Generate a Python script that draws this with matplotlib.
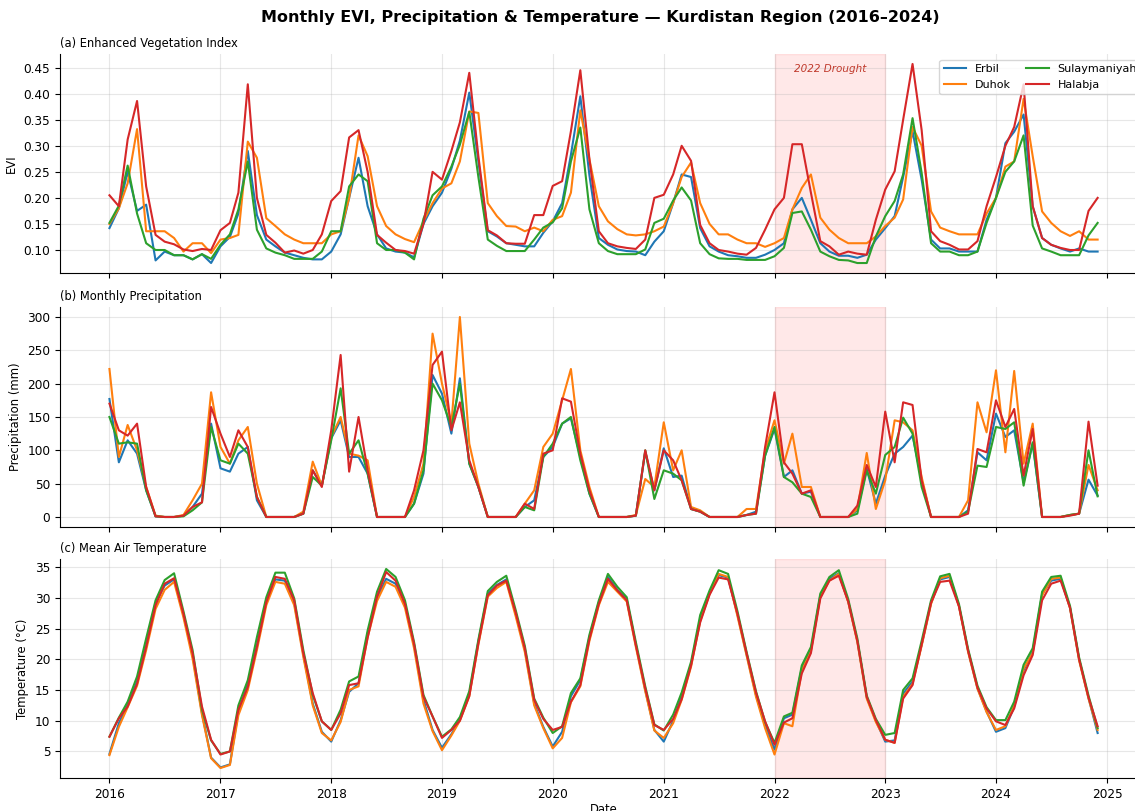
import pandas as pd
import matplotlib.pyplot as plt
import matplotlib.ticker as mticker
import matplotlib.transforms as mtransforms

# monthly series, Jan 2016 .. Dec 2024
dates = pd.date_range('2016-01-01', periods=108, freq='MS')
regions = ['Erbil', 'Duhok', 'Sulaymaniyah', 'Halabja']
colors = ['#1f77b4', '#ff7f0e', '#2ca02c', '#d62728']

# ---- EVI ----
evi_erbil = [
    0.142, 0.180, 0.250, 0.175, 0.187, 0.080, 0.097, 0.090, 0.090, 0.082, 0.092, 0.075,
    0.107, 0.125, 0.170, 0.290, 0.167, 0.120, 0.107, 0.095, 0.090, 0.085, 0.082, 0.082,
    0.097, 0.130, 0.200, 0.277, 0.184, 0.130, 0.103, 0.097, 0.095, 0.086, 0.150, 0.184,
    0.210, 0.256, 0.310, 0.402, 0.270, 0.136, 0.126, 0.113, 0.110, 0.107, 0.107, 0.133,
    0.155, 0.190, 0.283, 0.395, 0.243, 0.123, 0.110, 0.101, 0.098, 0.097, 0.090, 0.116,
    0.136, 0.190, 0.245, 0.240, 0.142, 0.107, 0.097, 0.090, 0.088, 0.085, 0.085, 0.091,
    0.100, 0.113, 0.178, 0.200, 0.158, 0.113, 0.097, 0.089, 0.089, 0.085, 0.091, 0.120,
    0.142, 0.165, 0.240, 0.328, 0.235, 0.120, 0.103, 0.103, 0.097, 0.097, 0.097, 0.158,
    0.200, 0.305, 0.327, 0.360, 0.184, 0.123, 0.110, 0.103, 0.097, 0.103, 0.097, 0.097,
]
evi_duhok = [
    0.150, 0.180, 0.228, 0.332, 0.136, 0.136, 0.136, 0.123, 0.097, 0.113, 0.113, 0.094,
    0.120, 0.123, 0.129, 0.308, 0.277, 0.161, 0.146, 0.130, 0.120, 0.113, 0.113, 0.113,
    0.130, 0.136, 0.200, 0.320, 0.280, 0.184, 0.146, 0.130, 0.121, 0.115, 0.155, 0.190,
    0.218, 0.228, 0.270, 0.366, 0.363, 0.190, 0.165, 0.146, 0.145, 0.136, 0.143, 0.136,
    0.158, 0.165, 0.210, 0.368, 0.274, 0.184, 0.155, 0.140, 0.130, 0.128, 0.130, 0.136,
    0.145, 0.190, 0.240, 0.268, 0.190, 0.150, 0.130, 0.130, 0.120, 0.113, 0.113, 0.106,
    0.113, 0.123, 0.178, 0.219, 0.245, 0.162, 0.139, 0.123, 0.113, 0.113, 0.113, 0.126,
    0.146, 0.162, 0.197, 0.336, 0.300, 0.174, 0.143, 0.136, 0.130, 0.130, 0.130, 0.170,
    0.200, 0.260, 0.270, 0.390, 0.280, 0.174, 0.152, 0.136, 0.127, 0.136, 0.120, 0.120,
]
evi_sulay = [
    0.152, 0.185, 0.262, 0.170, 0.113, 0.100, 0.100, 0.090, 0.090, 0.082, 0.092, 0.083,
    0.110, 0.130, 0.178, 0.270, 0.139, 0.103, 0.095, 0.090, 0.083, 0.083, 0.083, 0.097,
    0.136, 0.136, 0.222, 0.245, 0.232, 0.113, 0.100, 0.100, 0.095, 0.082, 0.160, 0.205,
    0.222, 0.260, 0.302, 0.365, 0.240, 0.120, 0.108, 0.098, 0.098, 0.098, 0.120, 0.143,
    0.153, 0.180, 0.270, 0.335, 0.178, 0.113, 0.098, 0.092, 0.092, 0.092, 0.101, 0.152,
    0.160, 0.195, 0.220, 0.195, 0.113, 0.092, 0.084, 0.083, 0.083, 0.081, 0.081, 0.081,
    0.088, 0.104, 0.171, 0.174, 0.139, 0.097, 0.088, 0.081, 0.080, 0.075, 0.075, 0.126,
    0.165, 0.194, 0.245, 0.353, 0.248, 0.113, 0.097, 0.097, 0.090, 0.090, 0.097, 0.152,
    0.200, 0.250, 0.270, 0.320, 0.147, 0.103, 0.097, 0.090, 0.090, 0.090, 0.128, 0.152,
]
evi_halabja = [
    0.205, 0.184, 0.312, 0.386, 0.222, 0.129, 0.116, 0.111, 0.101, 0.098, 0.102, 0.100,
    0.138, 0.152, 0.210, 0.418, 0.200, 0.129, 0.114, 0.095, 0.099, 0.093, 0.100, 0.130,
    0.194, 0.213, 0.316, 0.330, 0.250, 0.129, 0.114, 0.100, 0.098, 0.093, 0.150, 0.250,
    0.235, 0.290, 0.345, 0.440, 0.280, 0.138, 0.128, 0.113, 0.112, 0.112, 0.167, 0.167,
    0.223, 0.232, 0.328, 0.445, 0.274, 0.136, 0.113, 0.107, 0.104, 0.102, 0.120, 0.200,
    0.206, 0.245, 0.300, 0.271, 0.148, 0.113, 0.100, 0.097, 0.093, 0.091, 0.104, 0.139,
    0.178, 0.200, 0.303, 0.303, 0.210, 0.117, 0.107, 0.091, 0.097, 0.093, 0.091, 0.158,
    0.216, 0.251, 0.350, 0.457, 0.330, 0.136, 0.117, 0.110, 0.101, 0.101, 0.117, 0.184,
    0.240, 0.300, 0.336, 0.418, 0.184, 0.123, 0.110, 0.104, 0.100, 0.100, 0.175, 0.200,
]

# ---- precipitation (mm) ----
pr_erbil = [
    177, 82, 115, 95, 40, 1, 0, 0, 2, 15, 35, 140,
    73, 68, 95, 105, 25, 0, 0, 0, 0, 5, 70, 47,
    118, 145, 90, 90, 65, 0, 0, 0, 0, 20, 65, 213,
    185, 125, 208, 80, 45, 0, 0, 0, 0, 15, 25, 90,
    105, 140, 148, 90, 35, 0, 0, 0, 0, 2, 98, 40,
    103, 60, 62, 12, 8, 0, 0, 0, 0, 3, 8, 92,
    132, 60, 70, 35, 38, 0, 0, 0, 0, 10, 72, 20,
    62, 95, 105, 122, 55, 0, 0, 0, 0, 10, 97, 85,
    155, 120, 130, 52, 110, 0, 0, 0, 3, 5, 56, 32,
]
pr_duhok = [
    222, 90, 138, 100, 45, 2, 0, 0, 3, 25, 50, 187,
    105, 80, 115, 135, 50, 0, 0, 0, 0, 8, 83, 47,
    120, 150, 95, 92, 85, 0, 0, 0, 0, 30, 80, 275,
    200, 140, 300, 110, 50, 0, 0, 0, 0, 20, 40, 105,
    125, 175, 222, 100, 45, 0, 0, 0, 0, 3, 57, 45,
    142, 70, 100, 15, 10, 0, 0, 0, 0, 12, 12, 100,
    145, 80, 125, 45, 45, 0, 0, 0, 0, 12, 96, 12,
    55, 145, 142, 130, 60, 0, 0, 0, 0, 25, 172, 127,
    220, 97, 219, 80, 140, 0, 0, 0, 3, 5, 78, 40,
]
pr_sulay = [
    150, 110, 112, 110, 40, 1, 0, 0, 1, 10, 22, 135,
    85, 80, 110, 95, 30, 0, 0, 0, 0, 5, 60, 47,
    115, 193, 95, 115, 65, 0, 0, 0, 0, 20, 70, 200,
    175, 135, 200, 80, 45, 0, 0, 0, 0, 15, 10, 90,
    110, 140, 150, 85, 35, 0, 0, 0, 0, 2, 100, 27,
    70, 65, 55, 12, 8, 0, 0, 0, 0, 3, 5, 92,
    135, 60, 52, 35, 30, 0, 0, 0, 0, 5, 70, 35,
    93, 105, 149, 125, 45, 0, 0, 0, 0, 8, 77, 75,
    135, 132, 142, 47, 112, 0, 0, 0, 3, 5, 100, 31,
]
pr_halabja = [
    170, 130, 122, 140, 45, 1, 0, 0, 2, 15, 22, 165,
    125, 90, 130, 105, 30, 0, 0, 0, 0, 5, 70, 45,
    130, 243, 68, 150, 70, 0, 0, 0, 0, 40, 100, 228,
    248, 130, 172, 85, 45, 0, 0, 0, 0, 20, 12, 95,
    100, 178, 173, 95, 40, 0, 0, 0, 0, 2, 100, 40,
    100, 85, 55, 12, 8, 0, 0, 0, 0, 3, 5, 105,
    187, 82, 65, 35, 40, 0, 0, 0, 0, 17, 78, 45,
    158, 82, 172, 168, 55, 0, 0, 0, 0, 5, 102, 97,
    175, 135, 162, 62, 132, 0, 0, 0, 2, 5, 143, 47,
]

# ---- mean air temperature (C) ----
t_erbil = [
    4.6, 9.6, 12.6, 16.4, 22.3, 29.2, 32.0, 33.0, 27.2, 20.7, 11.2, 4.0,
    2.4, 2.9, 11.5, 16.0, 22.3, 29.7, 33.0, 32.8, 29.2, 20.8, 12.8, 8.2,
    6.6, 10.1, 14.7, 16.1, 24.2, 30.0, 33.1, 32.3, 28.9, 22.3, 13.4, 8.5,
    5.6, 7.8, 10.2, 14.3, 22.9, 30.7, 32.1, 33.0, 27.4, 21.6, 12.8, 9.0,
    5.8, 8.2, 14.0, 16.6, 23.6, 29.3, 33.4, 31.3, 29.7, 22.4, 15.0, 8.5,
    6.6, 10.0, 14.0, 19.2, 26.5, 30.8, 33.7, 33.3, 27.3, 20.8, 14.2, 9.2,
    5.3, 10.4, 11.0, 18.6, 21.5, 30.4, 33.1, 34.0, 29.4, 23.0, 13.8, 10.0,
    6.6, 6.8, 14.4, 16.4, 22.4, 29.2, 33.0, 33.4, 28.7, 21.4, 15.3, 11.5,
    8.2, 8.8, 12.3, 18.2, 21.2, 30.6, 32.8, 33.1, 28.4, 20.0, 13.7, 8.0,
]
t_duhok = [
    4.4, 9.0, 12.2, 15.7, 21.5, 28.2, 31.3, 32.6, 26.8, 20.1, 10.9, 3.9,
    2.3, 2.8, 10.9, 15.0, 21.5, 28.8, 32.6, 32.3, 28.8, 20.4, 12.5, 8.0,
    6.8, 9.8, 15.0, 15.6, 23.6, 29.5, 32.6, 31.8, 28.4, 21.8, 12.8, 8.3,
    5.2, 7.6, 10.0, 14.0, 22.4, 30.2, 31.6, 32.6, 27.0, 21.2, 12.5, 8.8,
    5.5, 7.2, 13.0, 15.6, 23.0, 28.8, 32.6, 31.0, 29.4, 22.0, 14.8, 8.4,
    7.2, 9.6, 13.4, 18.8, 26.2, 30.6, 33.9, 33.4, 27.0, 20.6, 13.9, 8.8,
    4.5, 9.6, 9.1, 18.2, 21.3, 30.2, 32.8, 33.9, 29.3, 22.8, 13.6, 9.8,
    6.9, 6.4, 13.9, 16.0, 22.2, 29.0, 33.2, 33.6, 28.6, 21.2, 15.2, 11.4,
    8.5, 9.1, 12.5, 18.5, 21.0, 30.4, 33.1, 33.3, 28.3, 19.8, 13.6, 8.5,
]
t_sulay = [
    7.4, 10.5, 13.1, 17.2, 23.4, 29.6, 32.9, 34.0, 27.8, 21.5, 11.8, 6.8,
    4.6, 5.0, 12.5, 16.6, 23.6, 30.1, 34.1, 34.1, 29.9, 21.5, 14.2, 9.9,
    8.5, 11.8, 16.4, 17.2, 24.7, 31.0, 34.7, 33.4, 29.6, 22.8, 14.2, 10.7,
    7.4, 8.6, 10.6, 14.8, 23.2, 31.1, 32.6, 33.6, 28.0, 22.2, 13.6, 10.5,
    8.0, 9.1, 14.5, 16.9, 24.0, 29.6, 33.9, 31.8, 30.1, 22.8, 15.6, 9.4,
    8.4, 11.0, 14.6, 19.6, 27.2, 31.2, 34.5, 33.9, 27.8, 21.2, 14.8, 9.8,
    6.4, 10.7, 11.3, 19.0, 22.0, 30.7, 33.4, 34.5, 29.8, 23.4, 14.1, 10.3,
    7.7, 8.0, 15.0, 16.9, 23.0, 29.6, 33.5, 33.9, 29.0, 21.7, 15.7, 12.2,
    10.1, 10.1, 13.1, 19.1, 21.8, 31.0, 33.4, 33.6, 28.7, 20.3, 14.1, 8.8,
]
t_halabja = [
    7.4, 10.4, 12.3, 16.0, 22.0, 28.8, 32.3, 33.2, 27.4, 21.0, 12.3, 6.9,
    4.5, 5.0, 11.8, 15.5, 22.0, 29.3, 33.4, 33.1, 29.6, 21.0, 14.5, 9.9,
    8.5, 11.2, 15.8, 16.1, 23.5, 30.2, 34.2, 32.8, 29.0, 22.5, 13.9, 10.7,
    7.2, 8.5, 10.0, 14.0, 22.6, 30.4, 32.0, 32.8, 27.6, 21.8, 13.4, 10.3,
    8.5, 9.0, 13.1, 15.8, 23.3, 29.0, 33.1, 31.2, 29.6, 22.3, 15.3, 9.3,
    8.5, 10.3, 13.5, 19.0, 26.0, 30.5, 33.3, 33.0, 27.4, 21.0, 14.6, 9.9,
    6.1, 9.7, 10.4, 17.7, 21.0, 29.9, 32.8, 33.6, 29.4, 23.0, 13.9, 10.1,
    6.9, 6.4, 13.6, 15.8, 22.4, 29.2, 32.6, 32.8, 28.6, 21.4, 15.4, 12.0,
    9.9, 9.3, 12.0, 17.4, 20.7, 29.6, 32.3, 32.8, 28.4, 20.0, 13.8, 9.1,
]

evi = pd.DataFrame(dict(zip(regions, [evi_erbil, evi_duhok, evi_sulay, evi_halabja])), index=dates)
precip = pd.DataFrame(dict(zip(regions, [pr_erbil, pr_duhok, pr_sulay, pr_halabja])), index=dates)
temp = pd.DataFrame(dict(zip(regions, [t_erbil, t_duhok, t_sulay, t_halabja])), index=dates)

drought_start = pd.Timestamp('2022-01-01')
drought_end = pd.Timestamp('2023-01-01')

fig = plt.figure(figsize=(11.35, 8.11), dpi=100)
ax1 = fig.add_axes([0.0529, 0.6634, 0.9577, 0.2700])
ax2 = fig.add_axes([0.0529, 0.3502, 0.9577, 0.2713], sharex=ax1)
ax3 = fig.add_axes([0.0529, 0.0407, 0.9577, 0.2700], sharex=ax1)

panels = [
    (ax1, evi, '(a) Enhanced Vegetation Index', 'EVI'),
    (ax2, precip, '(b) Monthly Precipitation', 'Precipitation (mm)'),
    (ax3, temp, '(c) Mean Air Temperature', 'Temperature (°C)'),
]

for ax, df, title, ylabel in panels:
    for name, c in zip(regions, colors):
        ax.plot(df.index, df[name], color=c, lw=1.5, label=name)
    ax.axvspan(drought_start, drought_end, color='red', alpha=0.09)
    ax.set_title(title, loc='left', fontsize=8.3, pad=5)
    ax.set_ylabel(ylabel, fontsize=8.4)
    ax.grid(True, alpha=0.3)
    ax.tick_params(labelsize=8.7)
    ax.spines['top'].set_visible(False)
    ax.spines['right'].set_visible(False)

ax1.yaxis.set_major_locator(mticker.MultipleLocator(0.05))
ax1.yaxis.set_major_formatter(mticker.FormatStrFormatter('%.2f'))
ax1.tick_params(labelbottom=False)
ax2.tick_params(labelbottom=False)
ax3.set_xlabel('Date', fontsize=8.4, labelpad=2)

# label for the drought year
trans = mtransforms.blended_transform_factory(ax1.transData, ax1.transAxes)
ax1.text(pd.Timestamp('2022-07-02'), 0.93, '2022 Drought', transform=trans,
         ha='center', va='center', fontsize=7.5, style='italic', color='#c0392b')

ax1.legend(loc='upper right', ncol=2, fontsize=8, columnspacing=1.4)

fig.suptitle('Monthly EVI, Precipitation & Temperature — Kurdistan Region (2016–2024)',
             x=0.529, y=0.988, fontsize=11.5, fontweight='bold')

fig.savefig('out.png', dpi=100)
